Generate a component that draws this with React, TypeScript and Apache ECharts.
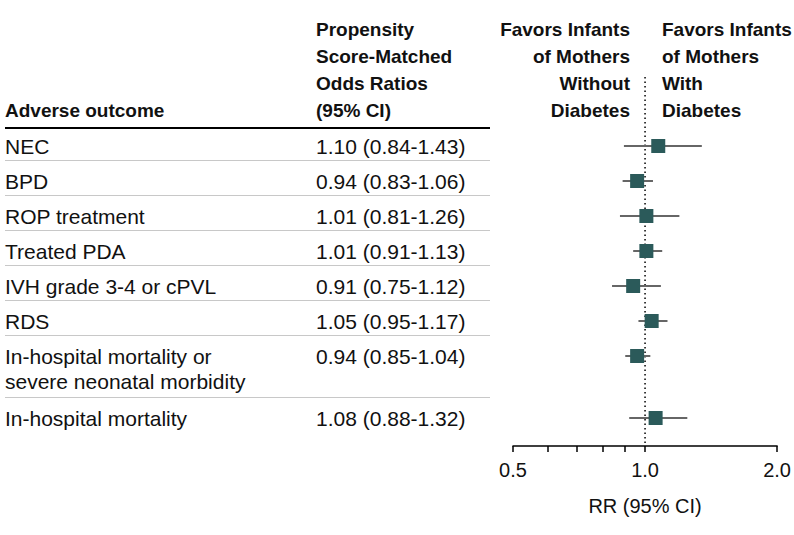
import React, { useEffect, useRef } from "react";
import * as echarts from "echarts";

// ---- data ----
const outcomes = [
  "NEC",
  "BPD",
  "ROP treatment",
  "Treated PDA",
  "IVH grade 3-4 or cPVL",
  "RDS",
  "In-hospital mortality or\nsevere neonatal morbidity",
  "In-hospital mortality",
];
const oddsRatios = [1.1, 0.94, 1.01, 1.01, 0.91, 1.05, 0.94, 1.08];
const ciLow = [0.84, 0.83, 0.81, 0.91, 0.75, 0.95, 0.85, 0.88];
const ciHigh = [1.43, 1.06, 1.26, 1.13, 1.12, 1.17, 1.04, 1.32];
const axisTickValues = [0.5, 0.6, 0.7, 0.8, 0.9, 1.0, 2.0];
const axisLabelValues = [0.5, 1.0, 2.0];
const referenceValue = 1.0;

const headerOutcome = "Adverse outcome";
const headerOR = "Propensity\nScore-Matched\nOdds Ratios\n(95% CI)";
const headerLeft = "Favors Infants\nof Mothers\nWithout\nDiabetes";
const headerRight = "Favors Infants\nof Mothers\nWith\nDiabetes";
const axisTitle = "RR (95% CI)";

// ---- layout ----
const W = 794;
const H = 535;
const FONT = '"Liberation Sans", Arial, sans-serif';
const ROW_PX = 35;
const TOP_PX = 77;
const FIRST_ROW_PX = 146;
const AXIS_PX = 446;
const EXTRA_LINE = 27 / ROW_PX;
const SEP_OFFSET = 0.4;
const TEXT_LINE_H = 25;
const TABLE_W = 485;
const OR_COL_X = 311;

const yMin = -(FIRST_ROW_PX - TOP_PX) / ROW_PX;
const yMax = (AXIS_PX - FIRST_ROW_PX) / ROW_PX;
const lineCounts = outcomes.map((s) => s.split("\n").length);
const rowY: number[] = [];
lineCounts.reduce((acc, n, i) => {
  rowY[i] = acc;
  return acc + 1 + (n - 1) * EXTRA_LINE;
}, 0);
const separators = rowY
  .slice(0, -1)
  .map((y, i) => y + (lineCounts[i] - 1) * EXTRA_LINE + SEP_OFFSET);
const orText = oddsRatios.map(
  (v, i) => `${v.toFixed(2)} (${ciLow[i].toFixed(2)}-${ciHigh[i].toFixed(2)})`
);

const headerStyle = (text: string, align: string) => ({
  text,
  fontSize: 19,
  fontWeight: "bold",
  fontFamily: FONT,
  fill: "#111",
  lineHeight: 27,
  align,
  verticalAlign: "top",
});

const option: any = {
  animation: false,
  backgroundColor: "#fff",
  grid: [
    { left: 513, right: W - 778, top: TOP_PX, bottom: H - AXIS_PX },
    { left: 5, width: TABLE_W, top: TOP_PX, bottom: H - AXIS_PX },
  ],
  xAxis: [
    {
      gridIndex: 0,
      type: "value",
      min: -1,
      max: 1,
      position: "bottom",
      axisLine: { show: true, onZero: false, lineStyle: { color: "#000", width: 1.5 } },
      axisTick: {
        show: true,
        customValues: axisTickValues.map(Math.log2),
        length: 6,
        lineStyle: { color: "#000", width: 1.5 },
      },
      axisLabel: {
        customValues: axisLabelValues.map(Math.log2),
        formatter: (v: number) => Math.pow(2, v).toFixed(1),
        fontSize: 20,
        fontFamily: FONT,
        color: "#111",
        margin: 14,
      },
      splitLine: { show: false },
      name: axisTitle,
      nameLocation: "middle",
      nameGap: 50,
      nameTextStyle: { fontSize: 20, fontFamily: FONT, color: "#111" },
    },
    { gridIndex: 0, type: "value", min: 0, max: 2, show: false },
    { gridIndex: 1, type: "value", min: 0, max: TABLE_W, show: false },
  ],
  yAxis: [
    { gridIndex: 0, type: "value", min: yMin, max: yMax, inverse: true, show: false },
    { gridIndex: 1, type: "value", min: yMin, max: yMax, inverse: true, show: false },
  ],
  graphic: [
    { type: "text", x: 5, y: 97, style: headerStyle(headerOutcome, "left") },
    { type: "text", x: 316, y: 16, style: headerStyle(headerOR, "left") },
    { type: "text", x: 630, y: 16, style: headerStyle(headerLeft, "right") },
    { type: "text", x: 662, y: 16, style: headerStyle(headerRight, "left") },
  ],
  series: [
    {
      type: "custom",
      xAxisIndex: 2,
      yAxisIndex: 1,
      silent: true,
      data: rowY.map((y) => [0, y]),
      renderItem: (params: any, api: any) => {
        const i = params.dataIndex;
        const y = api.value(1);
        const p = api.coord([0, y]);
        const q = api.coord([OR_COL_X, y]);
        const textStyle = {
          fontSize: 21,
          fontFamily: FONT,
          fill: "#111",
          lineHeight: TEXT_LINE_H,
          align: "left",
          verticalAlign: "top",
        };
        return {
          type: "group",
          children: [
            {
              type: "text",
              x: p[0],
              y: p[1] - TEXT_LINE_H / 2,
              style: { ...textStyle, text: outcomes[i] },
            },
            {
              type: "text",
              x: q[0],
              y: q[1] - TEXT_LINE_H / 2,
              style: { ...textStyle, text: orText[i] },
            },
          ],
        };
      },
      markLine: {
        silent: true,
        symbol: "none",
        label: { show: false },
        lineStyle: { color: "#c8c8c8", width: 1, type: "solid" },
        data: [
          { yAxis: -0.51, lineStyle: { color: "#000", width: 2, type: "solid" } },
          ...separators.map((y) => ({ yAxis: y })),
        ],
      },
    },
    {
      type: "line",
      xAxisIndex: 1,
      yAxisIndex: 0,
      silent: true,
      z: 2,
      symbol: "none",
      lineStyle: { color: "#000", width: 1.5, type: [1.5, 3] },
      data: [
        [referenceValue, yMin],
        [referenceValue, yMax],
      ],
    },
    {
      type: "custom",
      xAxisIndex: 1,
      yAxisIndex: 0,
      silent: true,
      z: 3,
      encode: { x: [0, 1, 2], y: 3 },
      data: oddsRatios.map((v, i) => [v, ciLow[i], ciHigh[i], rowY[i]]),
      renderItem: (params: any, api: any) => {
        const y = api.value(3);
        const c = api.coord([api.value(0), y]);
        const l = api.coord([api.value(1), y]);
        const h = api.coord([api.value(2), y]);
        return {
          type: "group",
          children: [
            {
              type: "line",
              shape: { x1: l[0], y1: l[1], x2: h[0], y2: h[1] },
              style: { stroke: "#666", lineWidth: 2 },
            },
            {
              type: "rect",
              shape: { x: c[0] - 7, y: c[1] - 7, width: 14, height: 14 },
              style: { fill: "#2b5a5a" },
            },
          ],
        };
      },
    },
  ],
};

export default function App() {
  const ref = useRef<HTMLDivElement>(null);
  useEffect(() => {
    const chart = echarts.init(ref.current!, undefined, { renderer: "svg" });
    chart.setOption(option);
    return () => chart.dispose();
  }, []);
  return (
    <div
      ref={ref}
      style={{ position: "absolute", left: 0, top: 0, width: W, height: H, background: "#fff" }}
    />
  );
}
